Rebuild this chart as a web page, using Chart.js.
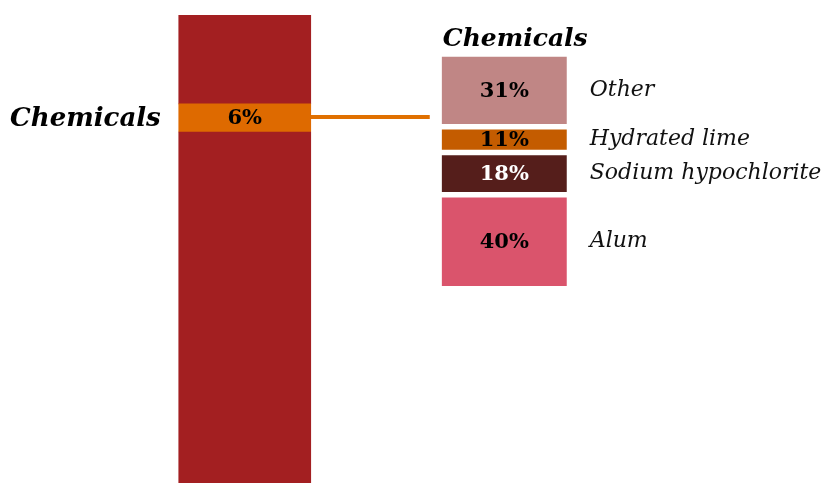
<!DOCTYPE html>
<html>
<head>
<meta charset="utf-8">
<script src="https://cdn.jsdelivr.net/npm/chart.js@4/dist/chart.umd.min.js"></script>
<style>
html,body{margin:0;padding:0;background:#fff;}
#wrap{position:relative;width:826px;height:483px;}
</style>
</head>
<body>
<div id="wrap"><canvas id="c" width="826" height="483"></canvas></div>
<script>
// ---- data ----
const barCategories = ['Total', 'Chemicals'];
const totalSegments = ['Rest (lower)', 'Chemicals', 'Rest (upper)'];
const totalValues = [75, 6, 19];
const totalLabels = ['', '6%', ''];
const chemCategories = ['Alum', 'Sodium hypochlorite', 'Hydrated lime', 'Other'];
const chemValues = [40, 18, 11, 31];
const chemLabels = ['40%', '18%', '11%', '31%'];
const groupTitle = 'Chemicals';

// ---- styles ----
const totalColors = ['#A31F21', '#DE6A00', '#A31F21'];
const chemColors = ['#DA546C', '#551E1B', '#C45C00', '#C08685'];
const chemTextColors = ['#000', '#fff', '#000', '#000'];
const SERIF = '"DejaVu Serif", "Liberation Serif", serif';

const datasets = [];
totalValues.forEach((v, i) => {
  datasets.push({
    label: totalSegments[i],
    data: [v, null],
    backgroundColor: totalColors[i],
    borderWidth: 0,
    barThickness: 132,
    stack: 'total',
    yAxisID: 'y',
    _lbl: totalLabels[i],
    _txt: '#000',
    _kind: 'total',
    _name: i === 1 ? groupTitle : ''
  });
});
chemValues.forEach((v, i) => {
  datasets.push({
    label: chemCategories[i],
    data: [null, v],
    backgroundColor: chemColors[i],
    borderColor: '#fff',
    borderWidth: {top: 3, bottom: 3, left: 0, right: 0},
    borderSkipped: false,
    barThickness: 125,
    stack: 'chem',
    yAxisID: 'y2',
    _lbl: chemLabels[i],
    _txt: chemTextColors[i],
    _kind: 'chem'
  });
});

const labelPlugin = {
  id: 'labelPlugin',
  afterDatasetsDraw(chart) {
    const ctx = chart.ctx;
    ctx.save();
    let chemBar = null, firstChem = null, lastChem = null;
    chart.data.datasets.forEach((ds, di) => {
      const meta = chart.getDatasetMeta(di);
      const col = ds._kind === 'total' ? 0 : 1;
      const el = meta.data[col];
      if (!el) return;
      if (ds._kind === 'total' && ds._name === groupTitle) chemBar = el;
      if (ds._kind === 'chem') {
        if (!firstChem) firstChem = el;
        lastChem = el;
      }
    });
    // connector line + left label
    if (chemBar && firstChem) {
      const yMid = (chemBar.y + chemBar.base) / 2;
      ctx.strokeStyle = '#E07000';
      ctx.lineWidth = 4;
      ctx.beginPath();
      ctx.moveTo(chemBar.x + chemBar.width / 2, yMid - 1);
      ctx.lineTo(firstChem.x - firstChem.width / 2 - 12, yMid - 1);
      ctx.stroke();
      ctx.fillStyle = '#000';
      ctx.font = 'bold italic 26px ' + SERIF;
      ctx.textAlign = 'right';
      ctx.textBaseline = 'middle';
      ctx.fillText(groupTitle, chemBar.x - chemBar.width / 2 - 18, yMid + 1);
    }
    // title above chem bar
    if (lastChem) {
      ctx.fillStyle = '#000';
      ctx.font = 'bold italic 25px ' + SERIF;
      ctx.textAlign = 'left';
      ctx.textBaseline = 'alphabetic';
      ctx.fillText(groupTitle, lastChem.x - lastChem.width / 2 + 1, 46);
    }
    // segment labels
    chart.data.datasets.forEach((ds, di) => {
      const meta = chart.getDatasetMeta(di);
      const col = ds._kind === 'total' ? 0 : 1;
      const el = meta.data[col];
      if (!el) return;
      const yMid = (el.y + el.base) / 2;
      if (ds._lbl) {
        ctx.fillStyle = ds._txt;
        ctx.font = 'bold 21px ' + SERIF;
        ctx.textAlign = 'center';
        ctx.textBaseline = 'middle';
        ctx.fillText(ds._lbl, el.x, yMid + 1);
      }
      if (ds._kind === 'chem') {
        ctx.fillStyle = '#111';
        ctx.font = 'italic 22px ' + SERIF;
        ctx.textAlign = 'left';
        ctx.textBaseline = 'middle';
        ctx.fillText(ds.label, el.x + el.width / 2 + 23, yMid);
      }
    });
    ctx.restore();
  }
};

new Chart(document.getElementById('c'), {
  type: 'bar',
  data: { labels: barCategories, datasets },
  options: {
    responsive: false,
    animation: false,
    skipNull: true,
    layout: { padding: { left: 115, right: 192, top: 15, bottom: 0 } },
    plugins: { legend: { display: false }, tooltip: { enabled: false } },
    scales: {
      x: { display: false, stacked: true },
      y: { display: false, stacked: true, min: 0, max: 100 },
      y2: { display: false, stacked: true, min: -82.8, max: 116.6 }
    }
  },
  plugins: [labelPlugin]
});
</script>
</body>
</html>
